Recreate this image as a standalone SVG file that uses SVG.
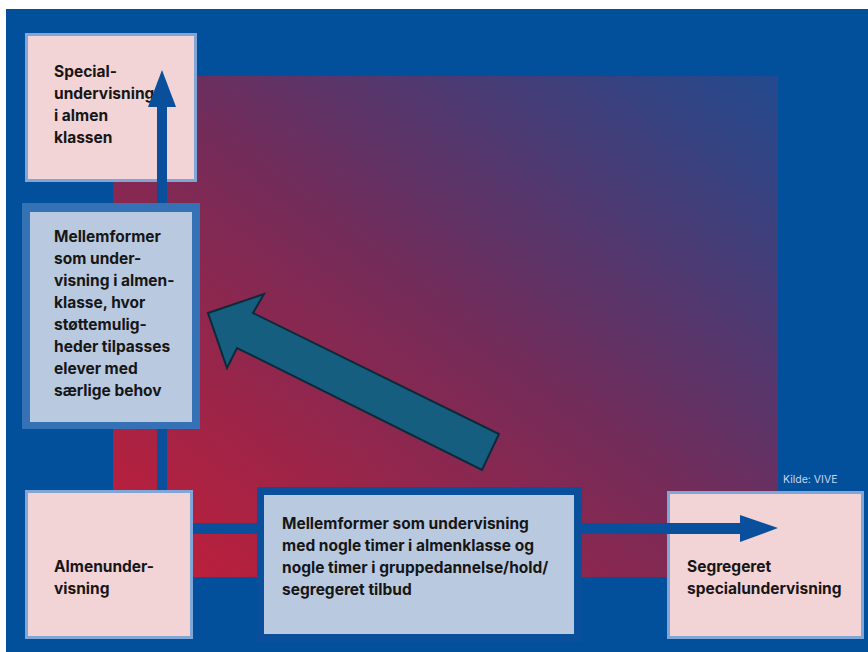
<svg xmlns="http://www.w3.org/2000/svg" width="868" height="652" viewBox="0 0 868 652">
<defs>
<linearGradient id="grad" x1="0" y1="1" x2="1" y2="0">
<stop offset="0" stop-color="#c41e38"/>
<stop offset="0.5" stop-color="#762b58"/>
<stop offset="1" stop-color="#224a8e"/>
</linearGradient>
<style>
.t{font-family:Inter,"Noto Sans","Liberation Sans",sans-serif;font-weight:700;font-size:15.5px;fill:#161616}
.pink{fill:#f2d3d6;stroke:#7fa6d6;stroke-width:3}
.blue{fill:#b9c9df}
.conn{fill:#0a4f9c}
</style>
</defs>
<rect x="0" y="0" width="868" height="652" fill="#ffffff"/>
<rect x="6" y="9" width="862" height="643" fill="#024f9b"/>
<rect x="113" y="76" width="665" height="501" fill="url(#grad)"/>
<g id="node-special">
<rect class="pink" x="26.5" y="34.5" width="169" height="146"/>
<text class="t"><tspan x="54" y="77">Special-</tspan><tspan x="54" y="99">undervisning</tspan><tspan x="54" y="121">i almen</tspan><tspan x="54" y="143">klassen</tspan></text>
</g>
<g id="node-segregeret">
<rect class="pink" x="668.5" y="492.5" width="194" height="145"/>
<text class="t"><tspan x="687" y="572">Segregeret</tspan><tspan x="687" y="594">specialundervisning</tspan></text>
</g>
<g id="connectors">
<rect class="conn" x="157" y="105" width="10" height="390"/>
<polygon class="conn" points="162,70 176,107 148,107"/>
<rect class="conn" x="190" y="523" width="552" height="11"/>
<polygon class="conn" points="778,528 740,515 740,542"/>
</g>
<g id="node-mellemformer-1">
<rect x="22" y="203" width="178" height="226" fill="#3571b5"/>
<rect class="blue" x="30" y="212" width="162" height="210"/>
<text class="t"><tspan x="54" y="242">Mellemformer</tspan><tspan x="54" y="264">som under-</tspan><tspan x="54" y="286">visning i almen-</tspan><tspan x="54" y="308">klasse, hvor</tspan><tspan x="54" y="330">støttemulig-</tspan><tspan x="54" y="352">heder tilpasses</tspan><tspan x="54" y="374">elever med</tspan><tspan x="54" y="396">særlige behov</tspan></text>
</g>
<g id="node-almen">
<rect class="pink" x="26.5" y="491.5" width="165" height="146"/>
<text class="t"><tspan x="54" y="572">Almenunder-</tspan><tspan x="54" y="594">visning</tspan></text>
</g>
<g id="node-mellemformer-2">
<rect x="257" y="487" width="325" height="155" fill="#0a4f9c"/>
<rect class="blue" x="264" y="495" width="310" height="139"/>
<text class="t"><tspan x="282" y="529">Mellemformer som undervisning</tspan><tspan x="282" y="551">med nogle timer i almenklasse og</tspan><tspan x="282" y="573">nogle timer i gruppedannelse/hold/</tspan><tspan x="282" y="595">segregeret tilbud</tspan></text>
</g>
<g id="big-arrow">
<polygon points="208,313 264,294 253,313 499,434 482,470 237,348 227,368" fill="#155e80" stroke="#0b2a3a" stroke-width="2" stroke-linejoin="miter"/>
</g>
<text x="783" y="483" font-family="Inter,'Liberation Sans',sans-serif" font-size="10.5" fill="#c9d5ee">Kilde: VIVE</text>
</svg>
